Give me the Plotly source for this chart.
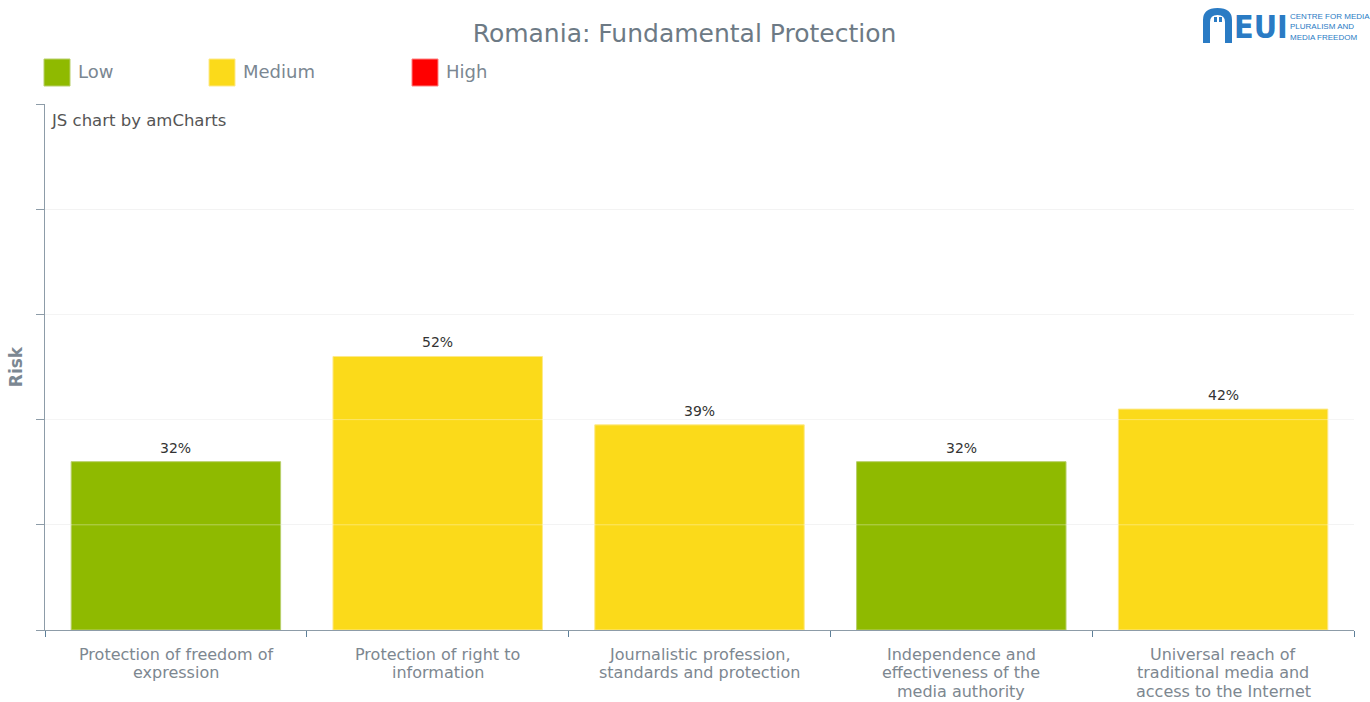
import plotly.graph_objects as go

# Indicator data
categories = [
    "Protection of freedom of<br>expression",
    "Protection of right to<br>information",
    "Journalistic profession,<br>standards and protection",
    "Independence and<br>effectiveness of the<br>media authority",
    "Universal reach of<br>traditional media and<br>access to the Internet",
]
risk_values = [32, 52, 39, 32, 42]

risk_levels = ["Low", "Medium", "High"]
level_colors = {"Low": "#8fba00", "Medium": "#fbda1a", "High": "#ff0000"}
level_edges = {"Low": "#b8cf6a", "Medium": "#fde98a", "High": "#ff8080"}


def level_of(v):
    if v <= 33:
        return "Low"
    if v <= 66:
        return "Medium"
    return "High"


levels = [level_of(v) for v in risk_values]

W, H = 1370, 702
ML, MR, MT, MB = 45, 16, 104, 72
PW, PH = W - ML - MR, H - MT - MB


def px(x):
    return (x - ML) / PW


def py(y):
    return (H - MB - y) / PH


fig = go.Figure()
fig.add_trace(go.Bar(
    x=categories,
    y=risk_values,
    marker=dict(color=[level_colors[l] for l in levels],
                line=dict(color=[level_edges[l] for l in levels], width=1)),
    hoverinfo="skip",
    showlegend=False,
))

shapes = []
annotations = []

# value labels above each bar
for cat, v in zip(categories, risk_values):
    annotations.append(dict(text=f"{v}%", x=cat, y=v, xref="x", yref="y",
                            yshift=14, showarrow=False, yanchor="middle",
                            font=dict(family="DejaVu Sans", size=14, color="#333333")))

# category labels, one line at a time for tight line spacing
for cat in categories:
    for i, line in enumerate(cat.split("<br>")):
        annotations.append(dict(text=line, x=cat, xref="x", yref="paper",
                                y=py(654 + 18.5 * i), yanchor="middle", showarrow=False,
                                font=dict(family="DejaVu Sans", size=16, color="#7d8790")))

# faint grid lines drawn over the bars
for g in range(20, 101, 20):
    shapes.append(dict(type="line", xref="paper", yref="y", x0=0, x1=1, y0=g, y1=g,
                       line=dict(color="rgba(255,255,255,0.35)", width=1), layer="above"))

# custom legend
legend_items = [("Low", 44), ("Medium", 209), ("High", 412)]
for name, x0 in legend_items:
    shapes.append(dict(type="rect", xref="paper", yref="paper",
                       x0=px(x0), x1=px(x0 + 26), y0=py(59), y1=py(86),
                       fillcolor=level_colors[name], line=dict(color=level_edges[name], width=1)))
    annotations.append(dict(text=name, xref="paper", yref="paper", x=px(x0 + 32), y=py(72),
                            xanchor="left", yanchor="middle", showarrow=False,
                            font=dict(family="DejaVu Sans", size=18, color="#7b8792")))

annotations.append(dict(text="JS chart by amCharts", xref="paper", yref="paper",
                        x=px(49), y=py(120), xanchor="left", yanchor="middle", showarrow=False,
                        font=dict(family="DejaVu Sans", size=16.5, color="#555555")))

# EUI logo
blue = "#2a7bc4"
ax0, ax1, atop, abot = 1203, 1232, 8, 43
arch = (f"M {px(ax0)} {py(abot)} L {px(ax0)} {py(atop + 12)} "
        f"Q {px(ax0)} {py(atop)} {px((ax0 + ax1) / 2)} {py(atop)} "
        f"Q {px(ax1)} {py(atop)} {px(ax1)} {py(atop + 12)} "
        f"L {px(ax1)} {py(abot)} L {px(ax1 - 7)} {py(abot)} L {px(ax1 - 7)} {py(atop + 14)} "
        f"Q {px(ax1 - 7)} {py(atop + 7)} {px((ax0 + ax1) / 2)} {py(atop + 7)} "
        f"Q {px(ax0 + 7)} {py(atop + 7)} {px(ax0 + 7)} {py(atop + 14)} "
        f"L {px(ax0 + 7)} {py(abot)} Z")
shapes.append(dict(type="path", xref="paper", yref="paper", path=arch,
                   fillcolor=blue, line=dict(width=0)))
for wx in (1214, 1219):
    shapes.append(dict(type="rect", xref="paper", yref="paper",
                       x0=px(wx), x1=px(wx + 3), y0=py(22), y1=py(17),
                       fillcolor=blue, line=dict(width=0)))
annotations.append(dict(text="<b>EUI</b>", xref="paper", yref="paper", x=px(1232), y=py(27),
                        xanchor="left", yanchor="middle", showarrow=False,
                        font=dict(family="DejaVu Sans Condensed", size=32, color=blue)))
annotations.append(dict(text="CENTRE FOR MEDIA<br>PLURALISM AND<br>MEDIA FREEDOM",
                        xref="paper", yref="paper", x=px(1288), y=py(27), align="left",
                        xanchor="left", yanchor="middle", showarrow=False,
                        font=dict(family="Liberation Sans", size=8, color=blue)))

fig.update_layout(
    width=W, height=H,
    margin=dict(l=ML, r=MR, t=MT, b=MB, autoexpand=False),
    paper_bgcolor="white", plot_bgcolor="white",
    title=dict(text="Romania: Fundamental Protection", x=px(699), xanchor="center",
               y=1 - 33 / H, yanchor="middle",
               font=dict(family="DejaVu Sans", size=25, color="#6d7a85")),
    bargap=0.2,
    showlegend=False,
    shapes=shapes,
    annotations=annotations,
    xaxis=dict(
        type="category",
        automargin=False,
        showticklabels=False,
        showline=True, linecolor="#8d9ca8", linewidth=1,
        ticks="outside", tickson="boundaries", ticklen=6, tickcolor="#5d7f99",
        showgrid=False,
    ),
    yaxis=dict(
        range=[0, 100], dtick=20,
        automargin=False,
        showticklabels=False,
        showline=True, linecolor="#8d9ca8", linewidth=1,
        ticks="outside", ticklen=8, tickcolor="#8d9ca8",
        showgrid=True, gridcolor="#f0f0f0", zeroline=False,
        title=dict(text="<b>Risk</b>", standoff=9,
                   font=dict(family="DejaVu Sans", size=17, color="#7b8792")),
    ),
)

fig.write_html("out.html")
